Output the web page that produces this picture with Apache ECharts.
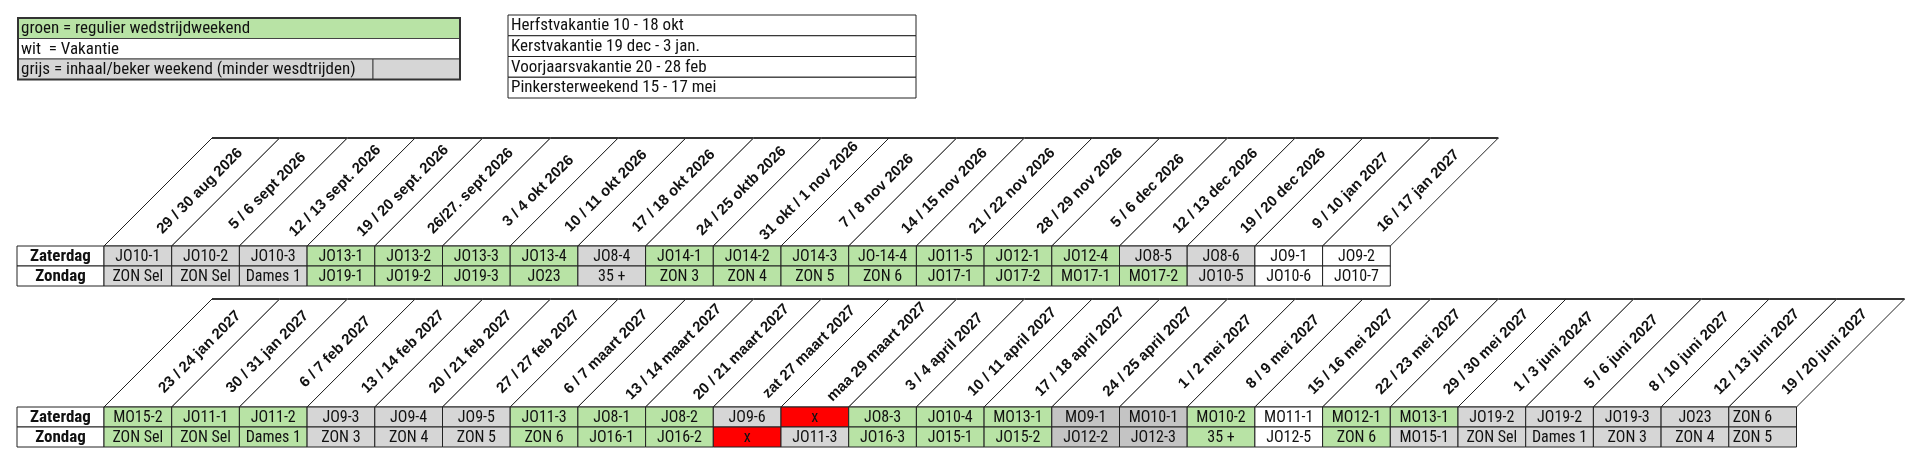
<!DOCTYPE html>
<html><head><meta charset="utf-8">
<script src="https://cdn.jsdelivr.net/npm/echarts@6/dist/echarts.min.js"></script>
<style>html,body{margin:0;padding:0;background:#fff}#c{width:1920px;height:465px}</style>
</head><body><div id="c"></div>
<script>
// ---------- data ----------
const legendRows = ["groen = regulier wedstrijdweekend", "wit  = Vakantie", "grijs = inhaal/beker weekend (minder wesdtrijden)"];
const legendTypes = ["G", "W", "Y"];
const vacationRows = ["Herfstvakantie 10 - 18 okt", "Kerstvakantie 19 dec - 3 jan.", "Voorjaarsvakantie 20 - 28 feb", "Pinkersterweekend 15 - 17 mei"];
const rowLabels = ["Zaterdag", "Zondag"];

const dates1 = ["29 / 30 aug 2026", "5 / 6 sept 2026", "12 / 13 sept. 2026", "19 / 20 sept. 2026", "26/27. sept 2026", "3 / 4 okt 2026", "10 / 11 okt 2026", "17 / 18 okt 2026", "24 / 25 oktb 2026", "31 okt / 1 nov 2026", "7 / 8 nov 2026", "14 / 15 nov 2026", "21 / 22 nov 2026", "28 / 29 nov 2026", "5 / 6 dec 2026", "12 / 13 dec 2026", "19 / 20 dec 2026", "9 / 10 jan 2027", "16 / 17 jan 2027"];
const zaterdag1 = ["JO10-1", "JO10-2", "JO10-3", "JO13-1", "JO13-2", "JO13-3", "JO13-4", "JO8-4", "JO14-1", "JO14-2", "JO14-3", "JO-14-4", "JO11-5", "JO12-1", "JO12-4", "JO8-5", "JO8-6", "JO9-1", "JO9-2"];
const zatType1 = ["Y", "Y", "Y", "G", "G", "G", "G", "Y", "G", "G", "G", "G", "G", "G", "G", "Y", "Y", "W", "W"];
const zondag1 = ["ZON Sel", "ZON Sel", "Dames 1", "JO19-1", "JO19-2", "JO19-3", "JO23", "35 +", "ZON 3", "ZON 4", "ZON 5", "ZON 6", "JO17-1", "JO17-2", "MO17-1", "MO17-2", "JO10-5", "JO10-6", "JO10-7"];
const zonType1 = ["Y", "Y", "Y", "G", "G", "G", "G", "Y", "G", "G", "G", "G", "G", "G", "G", "G", "Y", "W", "W"];

const dates2 = ["23 / 24 jan 2027", "30 / 31 jan 2027", "6 / 7 feb 2027", "13 / 14 feb 2027", "20 / 21 feb 2027", "27 / 27 feb 2027", "6 / 7 maart 2027", "13 / 14 maart 2027", "20 / 21 maart 2027", "zat 27 maart 2027", "maa 29 maart 2027", "3 / 4 april 2027", "10 / 11 april 2027", "17 / 18 april 2027", "24 / 25 april 2027", "1 / 2 mei 2027", "8 / 9 mei 2027", "15 / 16 mei 2027", "22 / 23 mei 2027", "29 / 30 mei 2027", "1 / 3 juni 20247", "5 / 6 juni 2027", "8 / 10 juni 2027", "12 / 13 juni 2027", "19 / 20 juni 2027"];
const zaterdag2 = ["MO15-2", "JO11-1", "JO11-2", "JO9-3", "JO9-4", "JO9-5", "JO11-3", "JO8-1", "JO8-2", "JO9-6", "x", "JO8-3", "JO10-4", "MO13-1", "MO9-1", "MO10-1", "MO10-2", "MO11-1", "MO12-1", "MO13-1", "JO19-2", "JO19-2", "JO19-3", "JO23", "ZON 6"];
const zatType2 = ["G", "G", "G", "Y", "Y", "Y", "G", "G", "G", "Y", "R", "G", "G", "G", "D", "D", "G", "W", "G", "G", "Y", "Y", "Y", "Y", "Y"];
const zondag2 = ["ZON Sel", "ZON Sel", "Dames 1", "ZON 3", "ZON 4", "ZON 5", "ZON 6", "JO16-1", "JO16-2", "x", "JO11-3", "JO16-3", "JO15-1", "JO15-2", "JO12-2", "JO12-3", "35 +", "JO12-5", "ZON 6", "MO15-1", "ZON Sel", "Dames 1", "ZON 3", "ZON 4", "ZON 5"];
const zonType2 = ["G", "G", "G", "Y", "Y", "Y", "G", "G", "G", "R", "Y", "G", "G", "G", "D", "D", "G", "W", "G", "Y", "Y", "Y", "Y", "Y", "Y"];

// ---------- style ----------
const FILL = { G: "#b8e3a5", W: "#ffffff", Y: "#d6d6d6", D: "#c4c4c4", R: "#ff0000" };
const CELL_FONT = "'Liberation Sans Narrow','Roboto Condensed','Liberation Sans',Arial,sans-serif";
const HEAD_FONT = "'Liberation Sans',Arial,sans-serif";
const COLW = 67.7, LABELW = 87, SLANT = 108;
const LW = LABELW / COLW;

const chart = echarts.init(document.getElementById('c'), null, { renderer: 'canvas' });

function cellData(sat, satT, zon, zonT) {
  const d = [];
  rowLabels.forEach((t, r) => d.push([-LW, r, LW, t, "L"]));
  sat.forEach((t, i) => d.push([i, 0, 1, t, satT[i]]));
  zon.forEach((t, i) => d.push([i, 1, 1, t, zonT[i]]));
  return d;
}
function renderCell(params, api) {
  const c = api.value(0), r = api.value(1), w = api.value(2);
  const raw = this.dataArr[params.dataIndex];
  const p0 = api.coord([c, r]), p1 = api.coord([c + w, r + 1]);
  const type = raw[4];
  const isLabel = type === "L";
  const isLast = !isLabel && c === this.ncol - 1 && this.leftLast;
  return {
    type: 'group',
    children: [
      { type: 'rect', shape: { x: p0[0], y: p0[1], width: p1[0] - p0[0], height: p1[1] - p0[1] },
        style: { fill: isLabel ? '#fff' : FILL[type], stroke: '#222', lineWidth: 1 } },
      { type: 'text', x: isLast ? p0[0] + 4 : (p0[0] + p1[0]) / 2, y: (p0[1] + p1[1]) / 2 + 0.5,
        style: { text: raw[3], fill: '#111', font: isLabel ? 'bold 17px ' + CELL_FONT : '16px ' + CELL_FONT,
                 align: isLast ? 'left' : 'center', verticalAlign: 'middle' } }
    ]
  };
}
function renderHead(params, api) {
  const c = api.value(0);
  const raw = this.dates[params.dataIndex];
  const bl = api.coord([c, 0]), br = api.coord([c + 1, 0]);
  const pts = [bl, br, [br[0] + SLANT, br[1] - SLANT], [bl[0] + SLANT, bl[1] - SLANT]];
  return {
    type: 'group',
    children: [
      { type: 'polygon', shape: { points: pts }, style: { fill: '#fff', stroke: '#222', lineWidth: 1 } },
      { type: 'line', shape: { x1: pts[3][0], y1: pts[3][1], x2: pts[2][0], y2: pts[2][1] }, style: { stroke: '#333', lineWidth: 2 } },
      { type: 'text', x: (bl[0] + br[0]) / 2 + SLANT / 2 + 8, y: bl[1] - SLANT / 2 - 1, rotation: Math.PI / 4,
        style: { text: raw, fill: '#111', font: 'bold 15px ' + HEAD_FONT, align: 'center', verticalAlign: 'middle' } }
    ]
  };
}

const cells1 = cellData(zaterdag1, zatType1, zondag1, zonType1);
const cells2 = cellData(zaterdag2, zatType2, zondag2, zonType2);
const ctx1 = { dataArr: cells1, ncol: dates1.length, dates: dates1, leftLast: false };
const ctx2 = { dataArr: cells2, ncol: dates2.length, dates: dates2, leftLast: true };

const grids = [
  { left: 17, top: 246, width: LABELW + COLW * dates1.length, height: 40 },
  { left: 17, top: 407, width: LABELW + COLW * dates2.length, height: 40 }
];
const xAxes = [dates1, dates2].map((d, i) => ({ type: 'value', gridIndex: i, min: -LW, max: d.length, show: false }));
const yAxes = [0, 1].map(i => ({ type: 'value', gridIndex: i, min: 0, max: 2, inverse: true, show: false }));

// legend tables (graphic)
const graphics = [];
const T1 = { x: 18, y: 18, w: 442, h: 20.5, split: 373 };
legendRows.forEach((t, i) => {
  const y = T1.y + i * T1.h;
  const w = i === 2 ? T1.split - T1.x : T1.w;
  graphics.push({ type: 'rect', shape: { x: T1.x, y: y, width: w, height: T1.h }, style: { fill: FILL[legendTypes[i]], stroke: '#444', lineWidth: 1 } });
  if (i === 2) graphics.push({ type: 'rect', shape: { x: T1.split, y: y, width: T1.x + T1.w - T1.split, height: T1.h }, style: { fill: FILL.Y, stroke: '#444', lineWidth: 1 } });
  graphics.push({ type: 'text', x: T1.x + 3, y: y + T1.h / 2 + 0.5, style: { text: t, fill: '#111', font: '17px ' + CELL_FONT, verticalAlign: 'middle' } });
});
graphics.push({ type: 'rect', shape: { x: T1.x, y: T1.y, width: T1.w, height: T1.h * 3 }, style: { fill: 'none', stroke: '#333', lineWidth: 2 } });
const T2 = { x: 508, y: 15, w: 408, h: 20.75 };
vacationRows.forEach((t, i) => {
  const y = T2.y + i * T2.h;
  graphics.push({ type: 'rect', shape: { x: T2.x, y: y, width: T2.w, height: T2.h }, style: { fill: '#fff', stroke: '#222', lineWidth: 1 } });
  graphics.push({ type: 'text', x: T2.x + 3, y: y + T2.h / 2 + 0.5, style: { text: t, fill: '#111', font: '17px ' + CELL_FONT, verticalAlign: 'middle' } });
});

chart.setOption({
  animation: false,
  grid: grids,
  xAxis: xAxes,
  yAxis: yAxes,
  graphic: graphics,
  series: [
    { type: 'custom', xAxisIndex: 0, yAxisIndex: 0, clip: false, data: dates1.map((d, i) => [i, 0]), renderItem: renderHead.bind(ctx1) },
    { type: 'custom', xAxisIndex: 0, yAxisIndex: 0, clip: false, data: cells1.map(d => [d[0], d[1], d[2]]), renderItem: renderCell.bind(ctx1) },
    { type: 'custom', xAxisIndex: 1, yAxisIndex: 1, clip: false, data: dates2.map((d, i) => [i, 0]), renderItem: renderHead.bind(ctx2) },
    { type: 'custom', xAxisIndex: 1, yAxisIndex: 1, clip: false, data: cells2.map(d => [d[0], d[1], d[2]]), renderItem: renderCell.bind(ctx2) }
  ]
});
</script></body></html>
